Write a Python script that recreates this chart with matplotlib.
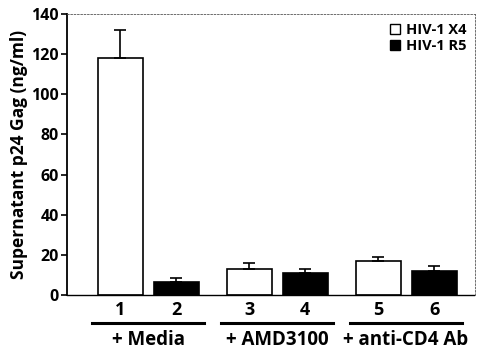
import matplotlib
matplotlib.use('Agg')
import matplotlib.pyplot as plt
from matplotlib.patches import Patch

# data
bar_labels = ['1', '2', '3', '4', '5', '6']
values = [118.2, 6.3, 13.1, 11.1, 16.9, 11.8]
errors = [13.8, 2.3, 2.7, 1.9, 2.0, 2.6]
is_x4 = [True, False, True, False, True, False]
groups = ['+ Media', '+ AMD3100', '+ anti-CD4 Ab']
positions = [0, 1, 2.3, 3.3, 4.6, 5.6]

plt.rcParams['font.family'] = ['Open Sans', 'DejaVu Sans']
plt.rcParams['font.weight'] = 'bold'

fig = plt.figure(figsize=(4.84, 3.52), dpi=100)
ax = fig.add_axes([0.1384, 0.162, 0.843, 0.798])

colors = ['white' if x else 'black' for x in is_x4]
ax.bar(positions, values, width=0.8, color=colors, edgecolor='black', linewidth=1.2,
       yerr=[[0] * len(errors), errors], capsize=4,
       error_kw=dict(elinewidth=1.2, capthick=1.2, ecolor='black'), zorder=2)

ax.set_xlim(-0.955, 6.33)
ax.set_ylim(0, 140)
ax.set_yticks(range(0, 141, 20))
ax.set_xticks(positions)
ax.set_xticklabels(bar_labels, fontsize=13, fontweight='bold')
ax.tick_params(axis='x', length=0, pad=4)
ax.tick_params(axis='y', labelsize=11.5, width=1.2, length=4, pad=2)
for lab in ax.get_yticklabels():
    lab.set_fontweight('bold')
ax.set_ylabel('Supernatant p24 Gag (ng/ml)', fontsize=12.5, fontweight='bold', labelpad=2)

ax.spines['left'].set_linewidth(1.3)
ax.spines['bottom'].set_linewidth(1.0)
ax.spines['bottom'].set_linestyle((0, (2, 1)))
for s in ['top', 'right']:
    ax.spines[s].set_linewidth(0.6)
    ax.spines[s].set_linestyle((0, (2, 2)))
    ax.spines[s].set_color('#555555')

# group lines and labels under the x axis
trans = ax.get_xaxis_transform()
for i, name in enumerate(groups):
    a, b = positions[2 * i] - 0.5, positions[2 * i + 1] + 0.5
    ax.plot([a, b], [-0.1, -0.1], color='black', linewidth=2.2, transform=trans, clip_on=False)
    ax.text((a + b) / 2, -0.16, name, transform=trans, ha='center', va='center',
            fontsize=13.5, fontweight='bold')

handles = [Patch(facecolor='white', edgecolor='black', label='HIV-1 X4'),
           Patch(facecolor='black', edgecolor='black', label='HIV-1 R5')]
ax.legend(handles=handles, loc='upper right', frameon=False,
          handlelength=0.7, handleheight=0.7, handletextpad=0.4, labelspacing=0.15,
          borderaxespad=0.2, prop={'weight': 'bold', 'size': 10.5})

fig.savefig('out.png', dpi=100)
